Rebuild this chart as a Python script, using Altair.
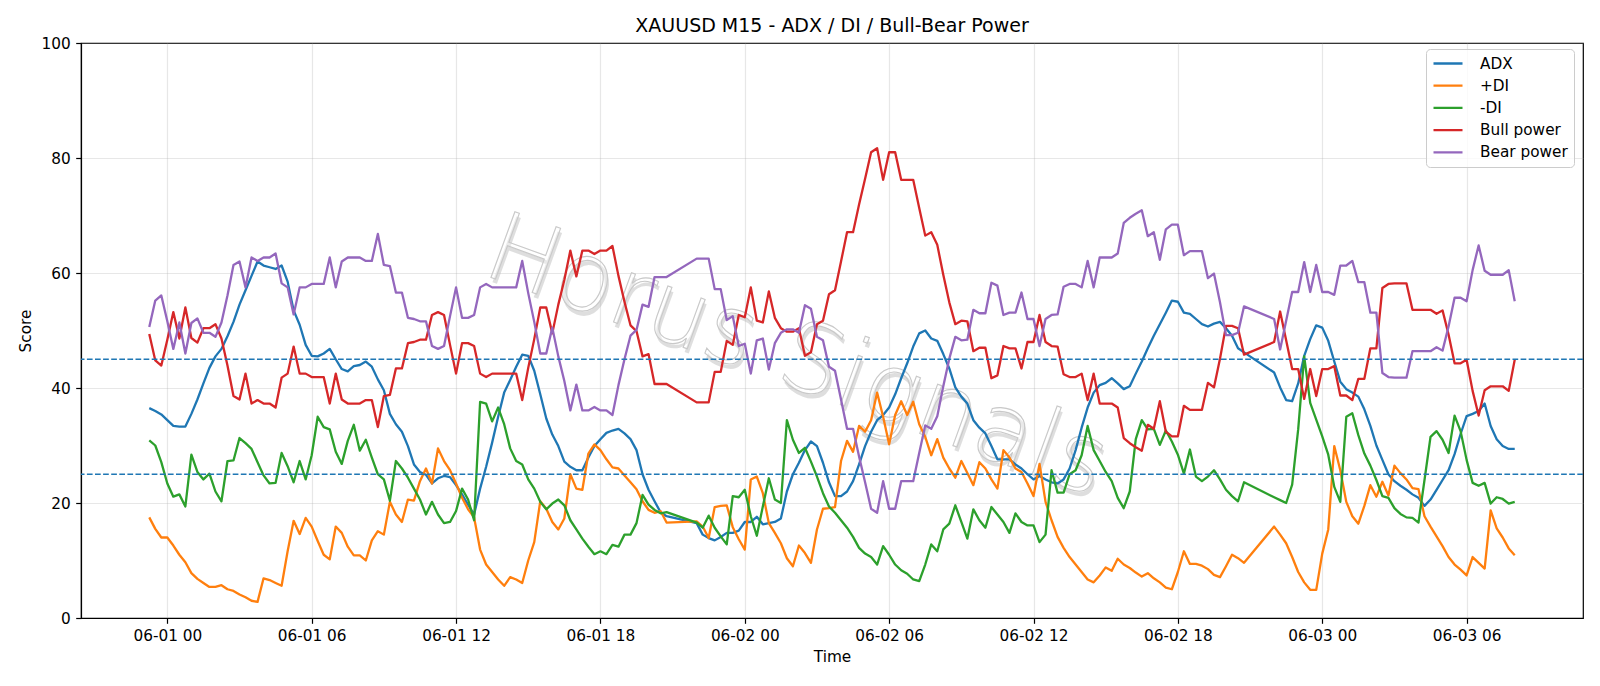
import altair as alt
import pandas as pd

# 15-minute bars (UTC); the market pauses 21:00-22:00 each day
SESSIONS = [
    ("2024-05-31 23:15", "2024-06-01 20:45"),
    ("2024-06-01 22:00", "2024-06-02 20:45"),
    ("2024-06-02 22:00", "2024-06-03 08:00"),
]
SERIES = ["ADX", "+DI", "-DI", "Bull power", "Bear power"]
COLORS = ["#1f77b4", "#ff7f0e", "#2ca02c", "#d62728", "#9467bd"]
LEVELS = [25, 45]
Y_TICKS = [0, 20, 40, 60, 80, 100]
X_TICKS = ["2024-06-01 00:00", "2024-06-01 06:00", "2024-06-01 12:00", "2024-06-01 18:00",
           "2024-06-02 00:00", "2024-06-02 06:00", "2024-06-02 12:00", "2024-06-02 18:00",
           "2024-06-03 00:00", "2024-06-03 06:00"]
X_RANGE = ["2024-05-31 20:24:45", "2024-06-03 10:50:15"]
TITLE = "XAUUSD M15 - ADX / DI / Bull-Bear Power"
WATERMARK = "Horus Signals"

ADX = [
    # session 1
    36.5, 36.0, 35.4, 34.4, 33.4, 33.3, 33.3, 35.5, 38.0, 40.8,
    43.5, 45.5, 46.8, 49.0, 51.5, 54.5, 57.0, 59.5, 62.0, 61.3,
    61.0, 60.7, 61.3, 58.5, 53.5, 51.0, 47.5, 45.6, 45.5, 46.0,
    46.8, 45.0, 43.3, 42.9, 43.8, 44.0, 44.6, 43.7, 41.5, 39.6,
    35.5, 33.7, 32.4, 29.9, 26.7, 25.4, 24.9, 23.4, 24.3, 24.7,
    24.5, 23.1, 21.5, 19.7, 18.0, 22.5, 26.3, 30.5, 35.0, 39.2,
    41.4, 43.7, 45.8, 45.6, 43.0, 38.9, 34.7, 31.9, 29.9, 27.2,
    26.3, 25.7, 25.7, 27.9, 29.9, 31.1, 32.2, 32.6, 32.9, 32.1,
    31.1, 29.2, 25.0, 22.3, 20.3, 18.4, 17.7,
    # session 2
    16.5, 14.5, 13.9, 13.5, 14.1, 14.8, 14.8, 15.2, 16.7, 16.7,
    17.6, 16.3, 16.5, 16.7, 17.3, 22.0, 25.0, 27.0, 29.2, 30.7,
    29.9, 27.0, 23.6, 21.2, 21.2, 22.0, 23.8, 26.7, 29.9, 32.4,
    34.4, 35.3, 36.6, 38.9, 41.7, 44.3, 47.2, 49.5, 50.0, 48.6,
    48.2, 45.9, 43.4, 40.1, 38.5, 37.3, 34.4, 33.1, 32.1, 29.9,
    27.6, 27.6, 27.6, 26.7, 26.0, 25.0, 24.1, 24.7, 24.1, 23.6,
    23.4, 24.1, 26.0, 29.2, 33.1, 36.6, 39.2, 40.5, 40.9, 41.7,
    40.8, 39.8, 40.3, 42.5, 44.6, 46.9, 49.1, 51.1, 53.1, 55.2,
    55.0, 53.1, 52.9, 52.0, 51.1, 50.7, 51.2, 51.5, 50.4, 49.1,
    46.9, 46.2,
    # session 3
    42.7, 40.1, 37.9, 37.7, 40.8, 45.6, 48.5, 50.9, 50.5, 48.2,
    44.6, 41.1, 39.8, 39.2, 38.5, 36.3, 33.4, 30.0, 27.5, 25.0,
    23.8, 23.0, 22.3, 21.5, 20.9, 19.5, 20.6, 22.3, 24.0, 25.7,
    28.5, 32.0, 35.1, 35.5, 36.0, 37.3, 33.4, 31.1, 29.9, 29.4,
    29.4,
]

PLUS_DI = [
    17.5, 15.5, 14.0, 14.0, 12.6, 11.0, 9.7, 7.8, 6.8, 6.1,
    5.4, 5.4, 5.7, 5.0, 4.7, 4.1, 3.6, 3.0, 2.8, 6.9,
    6.6, 6.1, 5.6, 11.6, 16.9, 14.6, 17.4, 15.9, 13.4, 11.0,
    10.2, 15.9, 14.8, 12.4, 10.9, 10.9, 10.0, 13.5, 15.1, 14.5,
    20.2, 18.0, 16.7, 20.6, 20.4, 23.8, 26.0, 23.4, 29.5, 27.3,
    25.7, 23.4, 20.9, 18.9, 17.5, 11.9, 9.3, 8.0, 6.7, 5.6,
    7.1, 6.7, 6.1, 10.0, 13.2, 20.3, 19.0, 16.7, 15.4, 17.3,
    25.0, 22.5, 22.3, 28.6, 30.2, 29.2, 27.6, 26.2, 26.0, 24.8,
    23.6, 22.4, 20.3, 18.8, 18.3, 18.6, 16.6,
    16.8, 15.9, 13.9, 19.3, 19.5, 19.6, 15.8, 13.7, 11.9, 24.1,
    24.6, 21.7, 16.5, 14.8, 13.0, 10.4, 9.0, 12.6, 11.3, 9.6,
    15.4, 19.0, 19.1, 19.3, 27.3, 30.8, 28.9, 33.4, 32.4, 34.4,
    39.2, 35.0, 30.2, 35.3, 37.7, 35.3, 37.6, 33.7, 31.5, 28.3,
    31.1, 27.9, 26.0, 24.4, 27.3, 25.2, 23.1, 27.1, 26.0, 24.1,
    22.5, 29.2, 27.9, 26.0, 25.4, 23.4, 21.2, 26.8, 20.2, 17.0,
    14.1, 12.2, 10.6, 9.3, 8.0, 6.7, 6.2, 7.4, 8.8, 8.2,
    10.3, 9.3, 8.7, 7.9, 7.2, 7.8, 6.9, 6.2, 5.3, 5.0,
    8.0, 11.6, 9.4, 9.4, 9.1, 8.5, 7.5, 7.1, 9.0, 11.0,
    10.4, 9.6,
    15.9, 14.5, 13.0, 10.6, 8.0, 6.2, 4.9, 4.9, 11.2, 15.4,
    29.9, 25.7, 20.2, 17.7, 16.4, 19.5, 23.1, 21.1, 23.7, 21.3,
    26.5, 25.2, 24.1, 22.6, 22.4, 17.7, 15.9, 14.2, 12.5, 10.6,
    9.3, 8.4, 7.4, 10.6, 9.6, 8.6, 18.7, 15.6, 14.0, 12.1,
    10.9,
]

MINUS_DI = [
    30.9, 30.0, 27.1, 23.4, 21.1, 21.5, 19.4, 28.4, 25.4, 24.1,
    25.1, 22.0, 20.3, 27.3, 27.4, 31.3, 30.4, 29.4, 27.1, 24.8,
    23.4, 23.5, 28.7, 26.4, 23.6, 27.3, 24.1, 28.3, 35.0, 33.2,
    32.8, 28.9, 26.8, 30.8, 33.6, 29.1, 31.0, 27.9, 25.0, 24.1,
    20.4, 27.3, 26.0, 24.4, 22.5, 20.6, 18.0, 20.2, 18.0, 16.5,
    16.7, 18.6, 22.5, 20.6, 17.0, 37.6, 37.3, 34.2, 36.6, 33.7,
    29.5, 27.3, 26.7, 24.1, 22.5, 20.2, 18.9, 19.9, 20.6, 19.6,
    17.0, 15.4, 13.8, 12.4, 11.1, 11.6, 11.1, 12.7, 12.4, 14.5,
    14.5, 16.5, 21.4, 19.7, 18.8, 18.2, 18.4,
    16.6, 15.7, 17.8, 15.7, 14.2, 12.8, 21.2, 21.0, 22.3, 17.7,
    14.3, 19.4, 24.3, 20.6, 20.0, 34.4, 31.0, 28.7, 29.6, 27.2,
    24.6, 21.7, 19.4, 18.3, 17.0, 15.7, 14.1, 12.2, 11.2, 10.6,
    9.3, 12.5, 11.0, 9.3, 8.3, 7.7, 6.7, 6.4, 9.3, 12.8,
    11.6, 15.4, 16.4, 19.6, 16.7, 13.8, 18.9, 17.0, 15.7, 19.3,
    18.0, 16.7, 14.8, 18.2, 16.7, 16.1, 16.1, 13.2, 14.5, 25.7,
    21.8, 21.8, 25.0, 25.7, 28.3, 33.4, 29.2, 27.3, 25.4, 23.8,
    20.9, 19.1, 22.0, 31.1, 34.4, 32.8, 32.9, 30.1, 32.6, 30.7,
    28.4, 25.1, 29.3, 24.6, 23.8, 24.6, 25.7, 24.1, 22.3, 21.2,
    20.3, 23.6,
    21.0, 20.5, 20.0, 23.2, 32.8, 45.5, 37.4, 34.5, 31.6, 28.4,
    22.8, 20.2, 35.0, 35.6, 31.8, 28.6, 26.5, 24.0, 21.2, 20.9,
    19.1, 18.1, 17.5, 17.4, 16.6, 24.0, 31.5, 32.5, 31.0, 28.7,
    35.2, 32.5, 27.5, 23.5, 23.0, 23.5, 19.9, 21.0, 20.7, 19.9,
    20.2,
]

BULL = [
    49.4, 44.8, 43.9, 48.4, 53.2, 48.6, 54.0, 48.7, 47.9, 50.4,
    50.4, 51.1, 48.6, 43.9, 38.6, 38.0, 42.5, 37.3, 37.9, 37.3,
    37.3, 36.6, 41.8, 42.5, 47.2, 42.5, 42.5, 41.9, 41.9, 41.9,
    37.3, 42.5, 38.0, 37.3, 37.3, 37.3, 37.9, 37.9, 33.2, 38.6,
    38.8, 43.4, 43.4, 47.8, 48.0, 48.4, 48.4, 52.7, 53.2, 52.7,
    47.5, 42.5, 47.8, 47.8, 47.3, 42.5, 41.9, 42.5, 42.5, 42.5,
    42.5, 42.5, 37.9, 43.5, 48.5, 54.0, 54.0, 49.5, 54.5, 58.8,
    63.9, 59.4, 63.9, 63.9, 63.3, 63.9, 63.9, 64.7, 59.5, 55.0,
    50.9, 49.9, 45.5, 45.9, 40.7, 40.7, 40.7,
    37.5, 37.5, 37.5, 42.8, 42.8, 48.2, 47.5, 52.7, 52.3, 57.5,
    51.7, 51.4, 56.8, 52.2, 50.4, 49.8, 49.8, 50.4, 45.6, 46.2,
    51.1, 51.7, 56.3, 57.0, 62.0, 67.1, 67.1, 71.9, 76.4, 81.0,
    81.7, 76.2, 81.0, 81.0, 76.2, 76.2, 76.2, 71.3, 66.5, 67.1,
    64.9, 59.7, 54.9, 51.1, 51.7, 51.6, 46.4, 47.0, 47.0, 41.7,
    42.2, 47.3, 46.9, 46.9, 43.4, 48.0, 48.0, 52.7, 48.0, 47.3,
    47.2, 42.4, 41.9, 41.9, 42.5, 37.9, 42.5, 37.3, 37.3, 37.3,
    36.6, 31.3, 30.4, 29.7, 29.1, 33.6, 32.9, 37.7, 32.4, 31.6,
    31.6, 36.9, 36.2, 36.2, 36.2, 40.9, 40.1, 45.1, 50.8, 50.8,
    50.4, 45.8,
    48.0, 53.3, 48.3, 43.3, 43.3, 38.1, 43.3, 38.6, 43.3, 43.3,
    43.8, 38.7, 38.7, 37.9, 41.6, 41.6, 46.9, 46.9, 57.4, 58.1,
    58.2, 58.2, 58.2, 53.6, 53.6, 53.6, 53.6, 52.9, 53.5, 49.3,
    44.3, 44.3, 44.9, 39.5, 35.2, 39.6, 40.3, 40.3, 40.3, 39.5,
    44.9,
]

BEAR = [
    50.6, 55.2, 56.1, 51.6, 46.8, 51.4, 46.0, 51.3, 52.1, 49.6,
    49.6, 48.9, 51.4, 56.1, 61.4, 62.0, 57.5, 62.7, 62.1, 62.7,
    62.7, 63.4, 58.2, 57.5, 52.8, 57.5, 57.5, 58.1, 58.1, 58.1,
    62.7, 57.5, 62.0, 62.7, 62.7, 62.7, 62.1, 62.1, 66.8, 61.4,
    61.2, 56.6, 56.6, 52.2, 52.0, 51.6, 51.6, 47.3, 46.8, 47.3,
    52.5, 57.5, 52.2, 52.2, 52.7, 57.5, 58.1, 57.5, 57.5, 57.5,
    57.5, 57.5, 62.1, 56.5, 51.5, 46.0, 46.0, 50.5, 45.5, 41.2,
    36.1, 40.6, 36.1, 36.1, 36.7, 36.1, 36.1, 35.3, 40.5, 45.0,
    49.1, 50.1, 54.5, 54.1, 59.3, 59.3, 59.3,
    62.5, 62.5, 62.5, 57.2, 57.2, 51.8, 52.5, 47.3, 47.7, 42.5,
    48.3, 48.6, 43.2, 47.8, 49.6, 50.2, 50.2, 49.6, 54.4, 53.8,
    48.9, 48.3, 43.7, 43.0, 38.0, 32.9, 32.9, 28.1, 23.6, 19.0,
    18.3, 23.8, 19.0, 19.0, 23.8, 23.8, 23.8, 28.7, 33.5, 32.9,
    35.1, 40.3, 45.1, 48.9, 48.3, 48.4, 53.6, 53.0, 53.0, 58.3,
    57.8, 52.7, 53.1, 53.1, 56.6, 52.0, 52.0, 47.3, 52.0, 52.7,
    52.8, 57.6, 58.1, 58.1, 57.5, 62.1, 57.5, 62.7, 62.7, 62.7,
    63.4, 68.7, 69.6, 70.3, 70.9, 66.4, 67.1, 62.3, 67.6, 68.4,
    68.4, 63.1, 63.8, 63.8, 63.8, 59.1, 59.9, 54.9, 49.2, 49.2,
    49.6, 54.2,
    52.0, 46.7, 51.7, 56.7, 56.7, 61.9, 56.7, 61.4, 56.7, 56.7,
    56.2, 61.3, 61.3, 62.1, 58.4, 58.4, 53.1, 53.1, 42.6, 41.9,
    41.8, 41.8, 41.8, 46.4, 46.4, 46.4, 46.4, 47.1, 46.5, 50.7,
    55.7, 55.7, 55.1, 60.5, 64.8, 60.4, 59.7, 59.7, 59.7, 60.5,
    55.1,
]


def to_ms(stamp):
    return int(pd.Timestamp(stamp, tz="UTC").value // 1_000_000)


times = []
for start, end in SESSIONS:
    times.extend(pd.date_range(start, end, freq="15min", tz="UTC"))
stamps = [t.strftime("%Y-%m-%dT%H:%M:%SZ") for t in times]

values_by_series = dict(zip(SERIES, [ADX, PLUS_DI, MINUS_DI, BULL, BEAR]))
for name, vals in values_by_series.items():
    assert len(vals) == len(stamps), (name, len(vals), len(stamps))

df = pd.DataFrame(
    [{"time": s, "series": name, "value": v}
     for name, vals in values_by_series.items()
     for s, v in zip(stamps, vals)]
)

FONT = "DejaVu Sans"
TEXT_SIZE = 15.3

x_enc = alt.X(
    "time:T",
    scale=alt.Scale(type="utc", domain=[to_ms(X_RANGE[0]), to_ms(X_RANGE[1])]),
    axis=alt.Axis(values=[to_ms(t) for t in X_TICKS], format="%m-%d %H",
                  title="Time", labelFlush=False, labelOverlap=False, titlePadding=5),
)
y_enc = alt.Y(
    "value:Q",
    scale=alt.Scale(domain=[0, 100], nice=False),
    axis=alt.Axis(values=Y_TICKS, title="Score", titlePadding=8),
)
color_enc = alt.Color(
    "series:N",
    scale=alt.Scale(domain=SERIES, range=COLORS),
    title=None,
    legend=alt.Legend(
        orient="none", legendX=1345, legendY=6,
        fillColor="rgba(255,255,255,0.8)", strokeColor="#cccccc", cornerRadius=4,
        padding=6, symbolType="stroke", symbolSize=841, symbolStrokeWidth=2.3,
        labelFont=FONT, labelFontSize=TEXT_SIZE, labelColor="black", labelOffset=16,
        rowPadding=5.2, clipHeight=17,
    ),
)

base = alt.Chart(df)

# faint embossed watermark behind the data
wm_data = alt.Chart(pd.DataFrame({"text": [WATERMARK]}))
wm_shadow = wm_data.mark_text(
    font=FONT, fontSize=96, fontWeight=300, angle=20, align="center", baseline="middle",
    fill="#b8b8b8", opacity=0.45, dx=3, dy=4,
).encode(text="text:N", x=alt.value(716), y=alt.value(315))
wm_face = wm_data.mark_text(
    font=FONT, fontSize=96, fontWeight=300, angle=20, align="center", baseline="middle",
    fill="white", fillOpacity=0.35, stroke="#c9c9c9", strokeWidth=1.1,
).encode(text="text:N", x=alt.value(716), y=alt.value(315))

lines = [
    base.transform_filter(alt.datum.series == name)
    .mark_line(strokeWidth=2.3, strokeJoin="round")
    .encode(x=x_enc, y=y_enc, color=color_enc)
    for name in SERIES
]

levels = alt.Chart(pd.DataFrame({"level": LEVELS})).mark_rule(
    color="#1f77b4", strokeWidth=1.5, strokeDash=[5.7, 2.4]
).encode(y=alt.Y("level:Q"))

chart = (
    alt.layer(wm_shadow, wm_face, *lines, levels)
    .properties(
        width=1502, height=575,
        autosize=alt.AutoSizeParams(type="none"),
        padding={"left": 81, "top": 43, "right": 17, "bottom": 68},
        title=alt.TitleParams(TITLE, font=FONT, fontSize=19, fontWeight="normal",
                              color="black", anchor="middle", offset=0),
    )
    .configure_view(stroke="black", strokeWidth=1.2)
    .configure_axis(
        domainColor="black", domainWidth=1.2, tickColor="black", tickWidth=1.2,
        tickSize=5.3, labelPadding=5.5, labelFont=FONT, labelFontSize=TEXT_SIZE,
        labelColor="black", titleFont=FONT, titleFontSize=TEXT_SIZE,
        titleFontWeight="normal", titleColor="black",
        gridColor="#b0b0b0", gridOpacity=0.3, gridWidth=1.2,
    )
)

chart.save("out.html", embed_options={"renderer": "svg", "actions": False})
